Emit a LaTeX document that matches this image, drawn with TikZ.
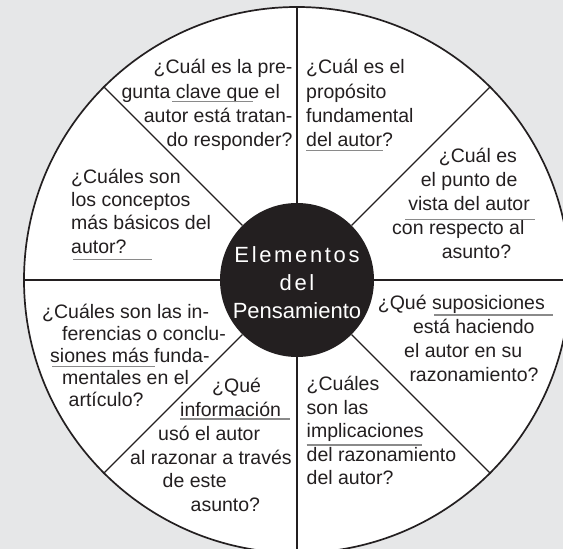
\documentclass[tikz,border=0pt]{standalone}
\usepackage{fontspec}
\setmainfont{Liberation Sans}
\newfontfamily\hubfont[LetterSpace=12]{Liberation Sans}
\definecolor{paper}{HTML}{E6E7E8}
\definecolor{ink}{HTML}{231F20}
\definecolor{rulegray}{HTML}{8A8A8A}

\begin{document}
\begin{tikzpicture}
  [x=1pt,y=1pt,
   question/.style={inner sep=0pt, anchor=base west, align=left, text=ink,
     font=\fontsize{19.5}{23.9}\selectfont},
   spoke/.style={line width=1.1pt, draw=ink},
   underl/.style={line width=1.1pt, draw=rulegray}]
  \useasboundingbox (0,0) rectangle (563,549);
  \clip (0,0) rectangle (563,549);
  \fill[paper] (0,0) rectangle (563,549);

  % wheel and hub
  \node[circle, draw=ink, fill=white, line width=1.7pt, inner sep=0pt,
        minimum size=546pt] (wheel) at (297,269) {};
  \node[circle, fill=ink, inner sep=0pt, minimum size=154pt] (hub) at (297,269) {};
  \node[text=white, align=center, inner sep=0pt,
        font=\fontsize{22}{27.8}\selectfont] (hubtext) at (297,266.5)
        {{\hubfont Elementos}\\{\hubfont del}\\Pensamiento};
  \foreach \a in {0,45,...,315}
    \draw[spoke] (hub.\a) -- (wheel.\a);

  % questions, clockwise from the top (anchored at the last line)
  \node[question, anchor=base east, align=right, font=\fontsize{19.5}{24.3}\selectfont]
    (clave) at (292.6,402.1)
    {¿Cuál es la pre-\\gunta clave que el\rule{12.5pt}{0pt}\\autor está tratan-\\do responder?};
  \node[question, font=\fontsize{19.5}{24.3}\selectfont] (proposito) at (306,402.1)
    {¿Cuál es el\\propósito\\fundamental\\del autor?};
  \node[question] (punto) at (392,290.8)
    {\hspace*{46.7pt}¿Cuál es\\\hspace*{28.7pt}el punto de\\\hspace*{16.2pt}vista del autor\\con respecto al\\\hspace*{49.6pt}asunto?};
  \node[question] (suposiciones) at (377.7,167.3)
    {¿Qué suposiciones\\\hspace*{35.2pt}está haciendo\\\hspace*{26.3pt}el autor en su\\\hspace*{31.6pt}razonamiento?};
  \node[question, font=\fontsize{19.5}{23.5}\selectfont] (implicaciones) at (306.5,64)
    {¿Cuáles\\son las\\implicaciones\\del razonamiento\\del autor?};
  \node[question, font=\fontsize{19.5}{23.8}\selectfont] (informacion) at (130,37.3)
    {\hspace*{82pt}¿Qué\\\hspace*{50pt}información\\\hspace*{28pt}usó el autor\\al razonar a través\\\hspace*{32.5pt}de este\\\hspace*{60.5pt}asunto?};
  \node[question, font=\fontsize{19.5}{22.1}\selectfont] (inferencias) at (42,142.3)
    {¿Cuáles son las in-\\\hspace*{20pt}ferencias o conclu-\\\hspace*{8pt}siones más funda-\\\hspace*{20pt}mentales en el\\\hspace*{26.5pt}artículo?};
  \node[question, font=\fontsize{19.5}{23.3}\selectfont] (conceptos) at (71,295.9)
    {¿Cuáles son\\los conceptos\\más básicos del\\autor?};

  % underlines
  \draw[underl] (172,447.3) -- (253,447.3);
  \draw[underl] (306,398.5) -- (383.4,398.5);
  \draw[underl] (405,329.5) -- (534.5,329.5);
  \draw[underl] (434,234) -- (553,234);
  \draw[underl] (306.7,104) -- (421.7,104);
  \draw[underl] (180,130) -- (290,130);
  \draw[underl] (52,182.5) -- (154.5,182.5);
  \draw[underl] (73,289.7) -- (151.5,289.7);
\end{tikzpicture}
\end{document}
